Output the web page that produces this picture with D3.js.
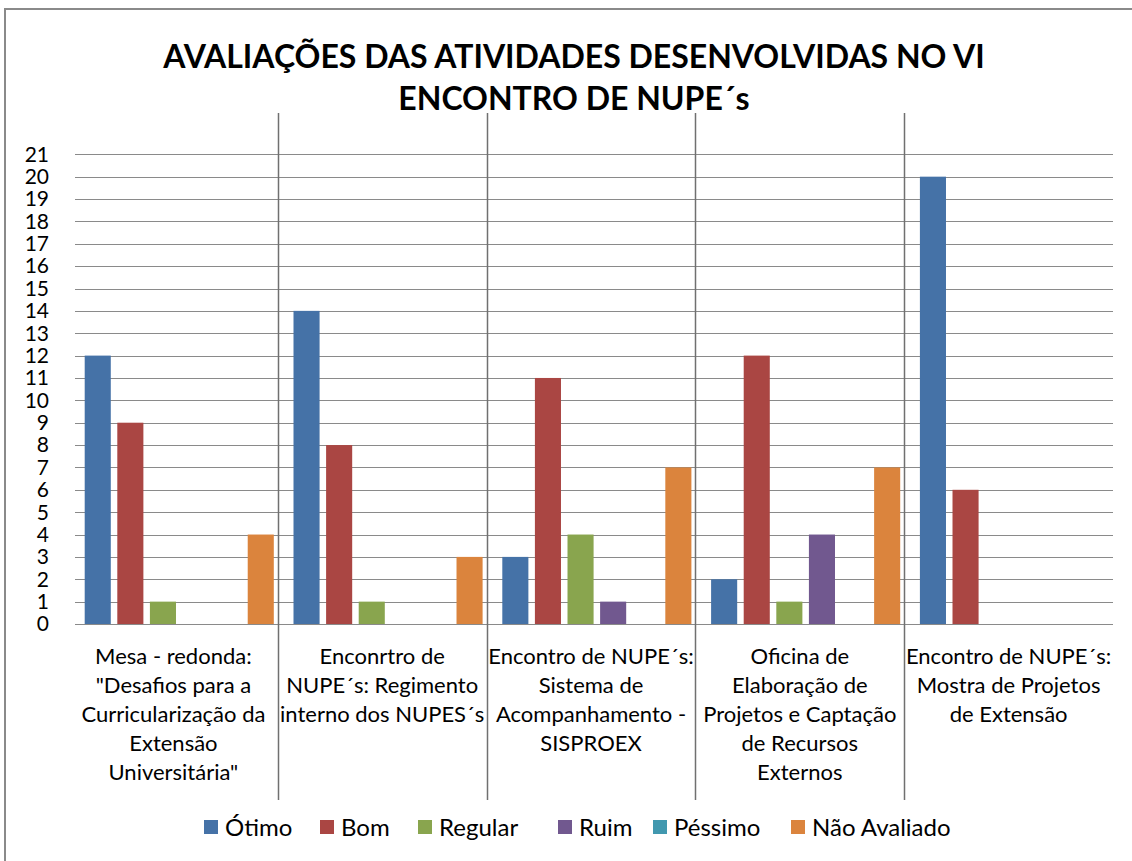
<html>
<script src='https://d3js.org/d3.v7.min.js'></script>
<style>
  body {margin:0; background:white;}
  text {font-family: Lato, 'Open Sans', sans-serif; fill:#000;}
</style>
<body onload='init()'>
<svg width=1132 height=861></svg>

<script>
// Category names (line breaks as shown in the chart)
var categories = [
  'Mesa - redonda:\n"Desafios para a\nCurricularização da\nExtensão\nUniversitária"',
  'Enconrtro de\nNUPE´s: Regimento\ninterno dos NUPES´s',
  'Encontro de NUPE´s:\nSistema de\nAcompanhamento -\nSISPROEX',
  'Oficina de\nElaboração de\nProjetos e Captação\nde Recursos\nExternos',
  'Encontro de NUPE´s:\nMostra de Projetos\nde Extensão'
];
var seriesNames = ['Ótimo', 'Bom', 'Regular', 'Ruim', 'Péssimo', 'Não Avaliado'];
var otimo       = [12, 14, 3, 2, 20];
var bom         = [9, 8, 11, 12, 6];
var regular     = [1, 1, 4, 1, 0];
var ruim        = [0, 0, 1, 4, 0];
var pessimo     = [0, 0, 0, 0, 0];
var naoAvaliado = [4, 3, 7, 7, 0];
var yTicks = d3.range(0, 22);
var colors = ['#4572a7', '#aa4643', '#89a54e', '#71588f', '#4198af', '#db843d'];
var titleLines = ['AVALIAÇÕES DAS ATIVIDADES DESENVOLVIDAS NO VI', 'ENCONTRO DE NUPE´s'];

function init() {
    var svg = d3.select('svg');
    var values = [otimo, bom, regular, ruim, pessimo, naoAvaliado];

    var left = 69, gridLeft = 75, right = 1113, top = 113, base = 624;

    // outer border (only left and top edges show in the picture)
    svg.append('rect')
      .attr('x', 5).attr('y', 9).attr('width', 1140).attr('height', 870)
      .attr('fill', 'white').attr('stroke', '#8a8a8a').attr('stroke-width', 2);

    // Set scales
    var x0 = d3.scaleBand().domain(d3.range(categories.length)).range([left, right]);
    var x1 = d3.scaleBand().domain(d3.range(seriesNames.length))
        .range([15.7, x0.bandwidth() - 4]).paddingInner(0.2);
    var y = d3.scaleLinear().domain([0, 21]).range([base, 154.3]);

    // gridlines
    svg.append('g').selectAll('line').data(yTicks).enter().append('line')
      .attr('x1', gridLeft).attr('x2', right)
      .attr('y1', d => Math.round(y(d)) + 0.5).attr('y2', d => Math.round(y(d)) + 0.5)
      .attr('stroke', '#8a8a8a').attr('stroke-width', 1.2);

    // y labels
    svg.append('g').selectAll('text').data(yTicks).enter().append('text')
      .attr('x', 49).attr('y', d => y(d)).attr('dy', '0.35em')
      .attr('text-anchor', 'end').style('font-size', '21px')
      .text(d => d);

    // bars
    var groups = svg.append('g').selectAll('g').data(categories).enter().append('g')
      .attr('transform', (d, i) => 'translate(' + x0(i) + ',0)');
    groups.selectAll('rect')
      .data((d, i) => values.map((v, s) => ({s: s, v: v[i]})))
      .enter().append('rect')
      .attr('x', d => x1(d.s)).attr('width', x1.bandwidth())
      .attr('y', d => y(d.v)).attr('height', d => base - y(d.v))
      .attr('fill', d => colors[d.s]);

    // category separators
    svg.append('g').selectAll('line').data(d3.range(1, categories.length)).enter().append('line')
      .attr('x1', d => Math.round(x0(d)) + 0.5).attr('x2', d => Math.round(x0(d)) + 0.5)
      .attr('y1', top).attr('y2', 800)
      .attr('stroke', '#707070').attr('stroke-width', 1.5);

    // category labels
    groups.append('text')
      .attr('text-anchor', 'middle').style('font-size', '22px')
      .attr('transform', 'translate(' + x0.bandwidth() / 2 + ',664)')
      .selectAll('tspan').data(d => d.split('\n')).enter().append('tspan')
      .attr('x', 0).attr('y', (d, i) => i * 29)
      .text(d => d);

    // title
    svg.append('g').selectAll('text').data(titleLines).enter().append('text')
      .attr('x', 574).attr('y', (d, i) => 68 + i * 42)
      .attr('text-anchor', 'middle')
      .style('font-size', '32px').style('font-weight', 'bold')
      .text(d => d);

    // legend
    var legX = [204, 320, 418, 558, 653, 791];
    var leg = svg.append('g').selectAll('g').data(seriesNames).enter().append('g')
      .attr('transform', (d, i) => 'translate(' + legX[i] + ',820)');
    leg.append('rect').attr('width', 14).attr('height', 14)
      .attr('fill', (d, i) => colors[i]);
    leg.append('text').attr('x', 21).attr('y', 7).attr('dy', '0.36em')
      .style('font-size', '24px').text(d => d);
}
</script>
</body>
</html>
